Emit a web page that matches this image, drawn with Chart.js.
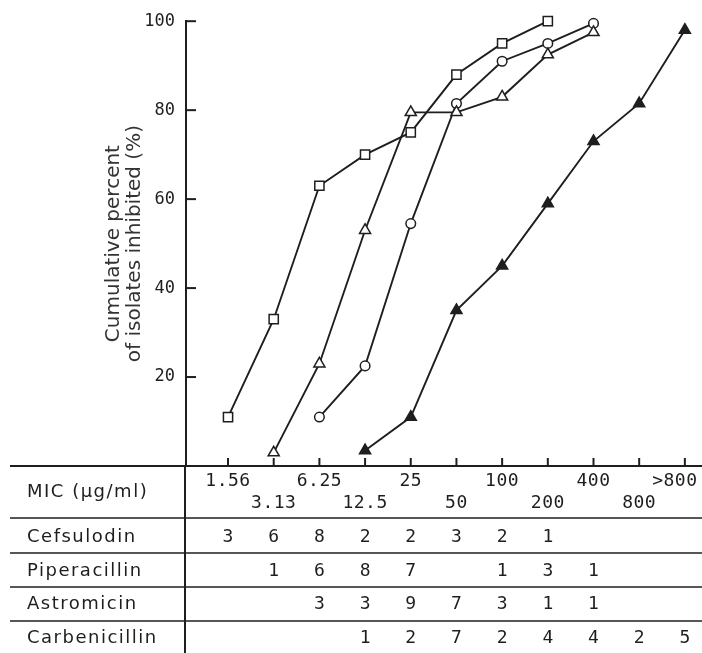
<!DOCTYPE html>
<html>
<head>
<meta charset="utf-8">
<script src="https://cdn.jsdelivr.net/npm/chart.js@4.4.1/dist/chart.umd.min.js"></script>
<style>
body{margin:0;background:#fff}
#wrap{width:702px;height:653px;position:relative}
</style>
</head>
<body>
<div id="wrap"><canvas id="c"></canvas></div>
<script>
// MIC steps (ug/ml)
const micLabels = ["1.56","3.13","6.25","12.5","25","50","100","200","400","800",">800"]
const yTicks = [20,40,60,80,100]

// cumulative percent
const cefsulodin    = [11, 33, 63, 70, 75, 88, 95, 100, null, null, null]
const piperacillin  = [null, 3, 23, 53, 79.5, 79.5, 83, 92.5, 97.5, null, null]
const astromicin    = [null, null, 11, 22.5, 54.5, 81.5, 91, 95, 99.5, null, null]
const carbenicillin = [null, null, null, 3.5, 11, 35, 45, 59, 73, 81.5, 98]

// number of isolates per MIC (table rows)
const cntCefsulodin    = [3, 6, 8, 2, 2, 3, 2, 1, null, null, null]
const cntPiperacillin  = [null, 1, 6, 8, 7, null, 1, 3, 1, null, null]
const cntAstromicin    = [null, null, 3, 3, 9, 7, 3, 1, 1, null, null]
const cntCarbenicillin = [null, null, null, 1, 2, 7, 2, 4, 4, 2, 5]

const rows = [
    ["Cefsulodin", cntCefsulodin],
    ["Piperacillin", cntPiperacillin],
    ["Astromicin", cntAstromicin],
    ["Carbenicillin", cntCarbenicillin]
]

const ink = "#1e1e1e"
let toPoints = (arr) => arr.map((v, i) => ({x: i, y: v})).filter(p => p.y !== null)

let serie = (name, arr, shape, filled, r) => ({
    label: name,
    data: toPoints(arr),
    borderColor: ink,
    borderWidth: 1.9,
    pointStyle: shape,
    pointRadius: r,
    pointBorderWidth: 1.5,
    pointBackgroundColor: filled ? ink : "#fff",
    pointBorderColor: ink,
    tension: 0,
    clip: false
})

// axes ticks (inside) + the table under the chart
const tablePlugin = {
    id: "table",
    afterDraw(chart) {
        const ctx = chart.ctx
        const xs = chart.scales.x
        const ys = chart.scales.y
        const a = chart.chartArea
        const W = chart.width, H = chart.height
        ctx.save()
        ctx.strokeStyle = ink
        ctx.lineCap = "butt"

        // y ticks pointing right
        ctx.lineWidth = 2
        yTicks.forEach(v => {
            const y = ys.getPixelForValue(v)
            ctx.beginPath(); ctx.moveTo(a.left, y); ctx.lineTo(a.left + 10, y); ctx.stroke()
        })
        // x ticks pointing up
        micLabels.forEach((l, i) => {
            const x = xs.getPixelForValue(i)
            ctx.beginPath(); ctx.moveTo(x, a.bottom - 8); ctx.lineTo(x, a.bottom); ctx.stroke()
        })

        // horizontal lines of the table
        const lines = [a.bottom, 518, 553, 587, 621]
        lines.forEach((y, k) => {
            ctx.lineWidth = k == 0 ? 2.2 : 1.7
            ctx.beginPath(); ctx.moveTo(10, y); ctx.lineTo(W, y); ctx.stroke()
        })
        // vertical separator = y axis going down
        ctx.lineWidth = 2
        ctx.beginPath(); ctx.moveTo(a.left - 1, a.bottom); ctx.lineTo(a.left - 1, H); ctx.stroke()

        // header row
        ctx.fillStyle = ink
        ctx.textBaseline = "middle"
        ctx.textAlign = "left"
        ctx.font = "18px 'DejaVu Sans'"
        ctx.letterSpacing = "1.5px"
        ctx.fillText("MIC (\u03bcg/ml)", 27, 492)

        ctx.font = "18px 'DejaVu Sans Mono'"
        ctx.letterSpacing = "0.5px"
        ctx.textAlign = "center"
        micLabels.forEach((l, i) => {
            let x = xs.getPixelForValue(i)
            const y = i % 2 == 0 ? 481 : 503
            if (i == micLabels.length - 1) x -= 10
            ctx.fillText(l, x, y)
        })

        // count rows
        const rowY = [537, 571, 604, 638]
        rows.forEach((r, k) => {
            ctx.textAlign = "left"
            ctx.font = "18px 'DejaVu Sans'"
            ctx.letterSpacing = "1.5px"
            ctx.fillText(r[0], 27, rowY[k])
            ctx.textAlign = "center"
            ctx.font = "18px 'DejaVu Sans Mono'"
            ctx.letterSpacing = "0px"
            r[1].forEach((n, i) => {
                if (n === null) return
                ctx.fillText(String(n), xs.getPixelForValue(i), rowY[k])
            })
        })
        ctx.restore()
    }
}

const chart = new Chart(document.getElementById("c"), {
    type: "line",
    data: {
        datasets: [
            serie("Cefsulodin", cefsulodin, "rect", false, 6.5),
            serie("Piperacillin", piperacillin, "triangle", false, 6.4),
            serie("Astromicin", astromicin, "circle", false, 4.8),
            serie("Carbenicillin", carbenicillin, "triangle", true, 6.4)
        ]
    },
    options: {
        responsive: true,
        maintainAspectRatio: false,
        animation: false,
        layout: {padding: {left: 95, top: 14, right: 0, bottom: 187}},
        plugins: {
            legend: {display: false},
            tooltip: {enabled: false}
        },
        scales: {
            x: {
                type: "linear",
                display: false,
                min: -0.92,
                max: 10.2
            },
            y: {
                min: 0,
                max: 100,
                afterFit: (s) => { s.width = 91 },
                grid: {display: false, drawTicks: false},
                border: {display: true, color: ink, width: 2},
                ticks: {
                    stepSize: 20,
                    padding: 11,
                    color: ink,
                    font: {family: "DejaVu Sans Mono", size: 17},
                    callback: (v) => v == 0 ? "" : v
                },
                title: {
                    display: true,
                    text: ["Cumulative percent", "of isolates inhibited (%)"],
                    color: "#333",
                    font: {family: "DejaVu Sans", size: 20, lineHeight: 1.05},
                    padding: {top: 8, bottom: 0}
                }
            }
        }
    },
    plugins: [tablePlugin]
})
</script>
</body>
</html>
